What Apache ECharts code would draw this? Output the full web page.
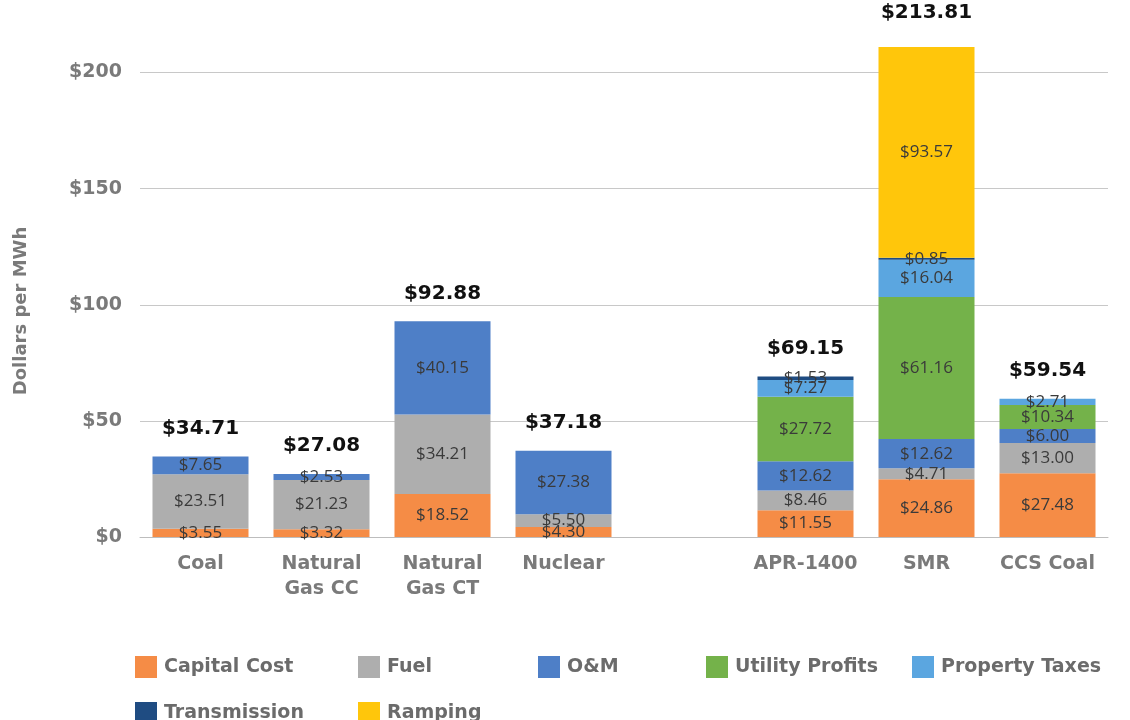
<!DOCTYPE html>
<html>
<head>
<meta charset="utf-8">
<script src="https://cdn.jsdelivr.net/npm/echarts@6/dist/echarts.min.js"></script>
<style>
html,body{margin:0;padding:0;background:#fff;}
#main{width:1130px;height:720px;}
</style>
</head>
<body>
<div id="main"></div>
<script>
var categories = ['Coal', 'Natural\nGas CC', 'Natural\nGas CT', 'Nuclear', '', 'APR-1400', 'SMR', 'CCS Coal'];
var capitalCost    = [3.55, 3.32, 18.52, 4.30, null, 11.55, 24.86, 27.48];
var fuel           = [23.51, 21.23, 34.21, 5.50, null, 8.46, 4.71, 13.00];
var om             = [7.65, 2.53, 40.15, 27.38, null, 12.62, 12.62, 6.00];
var utilityProfits = [null, null, null, null, null, 27.72, 61.16, 10.34];
var propertyTaxes  = [null, null, null, null, null, 7.27, 16.04, 2.71];
var transmission   = [null, null, null, null, null, 1.53, 0.85, null];
var ramping        = [null, null, null, null, null, null, 93.57, null];
var totals         = [34.71, 27.08, 92.88, 37.18, null, 69.15, 213.81, 59.54];
var yTicks = [0, 50, 100, 150, 200];

var FONT = "'Open Sans', 'Noto Sans', sans-serif";
var BOLD = "'DejaVu Sans', 'Noto Sans', sans-serif";

function seg(name, data, color) {
  return {
    name: name, type: 'bar', stack: 'cost', data: data, barWidth: 96,
    itemStyle: { color: color },
    label: {
      show: true, position: 'inside', fontFamily: FONT, fontSize: 17, color: '#3a3a3a',
      formatter: function (p) { return p.value == null ? '' : '$' + p.value.toFixed(2); }
    }
  };
}

var series = [
  seg('Capital Cost', capitalCost, '#F58C46'),
  seg('Fuel', fuel, '#AEAEAE'),
  seg('O&M', om, '#4E7FC7'),
  seg('Utility Profits', utilityProfits, '#74B24A'),
  seg('Property Taxes', propertyTaxes, '#5BA6E0'),
  seg('Transmission', transmission, '#1F4C82'),
  seg('Ramping', ramping, '#FFC60B'),
  {
    name: 'Total', type: 'bar', data: totals, barWidth: 96, barGap: '-100%', clip: false,
    itemStyle: { color: 'rgba(0,0,0,0)' }, silent: true, z: 1,
    label: {
      show: true, position: 'top', distance: 18, fontFamily: BOLD, fontSize: 20, fontWeight: 'bold', color: '#111',
      formatter: function (p) { return p.value == null ? '' : '$' + p.value.toFixed(2); }
    }
  }
];

function leg(name, left, top) {
  return {
    data: [name], left: left, top: top, itemWidth: 22, itemHeight: 22, icon: 'rect',
    selectedMode: false,
    textStyle: { fontFamily: BOLD, fontSize: 19, fontWeight: 'bold', color: '#6b6b6b', padding: [0, 0, 0, 2] }
  };
}

var chart = echarts.init(document.getElementById('main'));
chart.setOption({
  backgroundColor: '#fff',
  animation: false,
  grid: { left: 140, right: 22, top: 47, bottom: 183 },
  legend: [
    leg('Capital Cost', 130, 651),
    leg('Fuel', 353, 651),
    leg('O&M', 533, 651),
    leg('Utility Profits', 701, 651),
    leg('Property Taxes', 907, 651),
    leg('Transmission', 130, 697),
    leg('Ramping', 353, 697)
  ],
  xAxis: {
    type: 'category', data: categories,
    axisLine: { show: true, lineStyle: { color: '#bdbdbd', width: 1 } },
    axisTick: { show: false },
    axisLabel: { fontFamily: BOLD, fontSize: 19, fontWeight: 'bold', color: '#7a7a7a', margin: 15, lineHeight: 25, interval: 0 }
  },
  yAxis: {
    type: 'value', min: 0, max: 211, interval: 50,
    name: 'Dollars per MWh', nameLocation: 'middle', nameGap: 110, nameRotate: 90,
    nameTextStyle: { fontFamily: BOLD, fontSize: 18, fontWeight: 'bold', color: '#7a7a7a', padding: [0, 38, 0, 0] },
    axisLine: { show: false }, axisTick: { show: false },
    axisLabel: {
      fontFamily: BOLD, fontSize: 19, fontWeight: 'bold', color: '#7a7a7a', margin: 18, showMaxLabel: false,
      formatter: function (v) { return yTicks.indexOf(v) >= 0 ? '$' + v : ''; }
    },
    splitLine: { show: true, showMaxLine: false, lineStyle: { color: '#c8c8c8', width: 1 } }
  },
  series: series
});
</script>
</body>
</html>
